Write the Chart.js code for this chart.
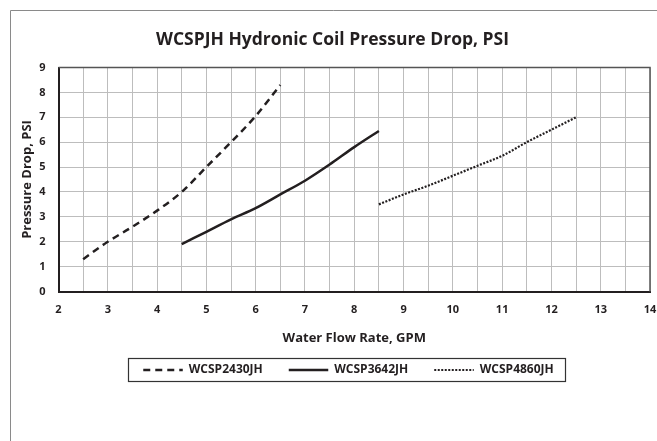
<!DOCTYPE html>
<html>
<head>
<meta charset="utf-8">
<script src="https://cdn.jsdelivr.net/npm/chart.js@4.4.0/dist/chart.umd.min.js"></script>
<style>
  html, body { margin: 0; padding: 0; background: #fff; }
  #wrap { width: 657px; height: 441px; }
</style>
</head>
<body>
<div id="wrap"><canvas id="chart" width="657" height="441"></canvas></div>
<script>
// flow rates (GPM) and pressure drops (PSI)
const flow2430 = [2.5, 3, 3.5, 4, 4.5, 5, 5.5, 6, 6.5];
const drop2430 = [1.3, 2.0, 2.6, 3.25, 4.0, 5.0, 6.0, 7.05, 8.3];

const flow3642 = [4.5, 5, 5.5, 6, 6.5, 7, 7.5, 8, 8.5];
const drop3642 = [1.9, 2.4, 2.9, 3.35, 3.9, 4.45, 5.1, 5.8, 6.45];

const flow4860 = [8.5, 9, 9.5, 10, 10.5, 11, 11.5, 12, 12.5];
const drop4860 = [3.5, 3.9, 4.25, 4.65, 5.05, 5.45, 6.0, 6.5, 7.0];

const seriesNames = ['WCSP2430JH', 'WCSP3642JH', 'WCSP4860JH'];

const ink = '#231f20';
const fontFam = '"Open Sans", "Noto Sans", sans-serif';

const toPoints = (xs, ys) => xs.map((x, i) => ({ x: x, y: ys[i] }));

// frame round the chart + grey top/right edge of the plot
const framePlugin = {
    id: 'frame',
    afterLayout(chart) {
        // legend sits a little right of centre in the original
        chart.legend.left += 16;
        chart.legend.right += 16;
    },
    beforeDatasetsDraw(chart) {
        const { ctx, chartArea: a } = chart;
        ctx.save();
        ctx.strokeStyle = '#555';
        ctx.lineWidth = 1.5;
        ctx.beginPath();
        ctx.moveTo(a.left, a.top);
        ctx.lineTo(a.right, a.top);
        ctx.lineTo(a.right, a.bottom);
        ctx.stroke();
        ctx.restore();
    },
    afterDraw(chart) {
        const ctx = chart.ctx;
        ctx.save();
        ctx.strokeStyle = '#8a8a8a';
        ctx.lineWidth = 1;
        ctx.beginPath();
        ctx.moveTo(10.5, chart.height);
        ctx.lineTo(10.5, 10.5);
        ctx.lineTo(chart.width, 10.5);
        ctx.stroke();

        // box round the legend
        const boxes = chart.legend.legendHitBoxes;
        if (boxes && boxes.length) {
            const l = Math.min(...boxes.map(b => b.left)) - 15;
            const r = Math.max(...boxes.map(b => b.left + b.width)) + 12;
            const t = Math.min(...boxes.map(b => b.top)) - 6;
            const bt = Math.max(...boxes.map(b => b.top + b.height)) + 5;
            ctx.strokeStyle = '#333';
            ctx.lineWidth = 1.2;
            ctx.strokeRect(Math.round(l) + 0.5, Math.round(t) + 0.5, Math.round(r - l), Math.round(bt - t));
        }
        ctx.restore();
    }
};

new Chart(document.getElementById('chart'), {
    type: 'line',
    data: {
        datasets: [
            {
                label: seriesNames[0],
                data: toPoints(flow2430, drop2430),
                borderColor: ink,
                backgroundColor: 'rgba(0,0,0,0)',
                borderWidth: 2.5,
                borderDash: [7, 5],
                pointRadius: 0,
                cubicInterpolationMode: 'monotone'
            },
            {
                label: seriesNames[1],
                data: toPoints(flow3642, drop3642),
                borderColor: ink,
                backgroundColor: 'rgba(0,0,0,0)',
                borderWidth: 2.5,
                pointRadius: 0,
                cubicInterpolationMode: 'monotone'
            },
            {
                label: seriesNames[2],
                data: toPoints(flow4860, drop4860),
                borderColor: ink,
                backgroundColor: 'rgba(0,0,0,0)',
                borderWidth: 2.2,
                borderDash: [2, 1.5],
                pointRadius: 0,
                cubicInterpolationMode: 'monotone'
            }
        ]
    },
    options: {
        responsive: false,
        animation: false,
        layout: { padding: { top: 10, left: 8, right: 0, bottom: 55 } },
        plugins: {
            title: {
                display: true,
                text: 'WCSPJH Hydronic Coil Pressure Drop, PSI',
                color: ink,
                font: { family: fontFam, size: 17.5, weight: 'bold' },
                padding: { top: 19.5, bottom: 17 }
            },
            legend: {
                position: 'bottom',
                labels: {
                    color: ink,
                    font: { family: fontFam, size: 12, weight: 'bold' },
                    // zero-height box = a short line in the series' dash style
                    boxWidth: 39.5,
                    boxHeight: 0,
                    padding: 26
                }
            },
            tooltip: { enabled: false }
        },
        scales: {
            x: {
                type: 'linear',
                min: 2,
                max: 14,
                grid: { color: '#bdbdbd', drawTicks: false },
                border: { color: ink, width: 2 },
                ticks: {
                    stepSize: 0.5,
                    autoSkip: false,
                    maxRotation: 0,
                    padding: 12,
                    color: ink,
                    font: { family: fontFam, size: 11, weight: 'bold' },
                    callback: v => Number.isInteger(v) ? v : ''
                },
                title: {
                    display: true,
                    text: 'Water Flow Rate, GPM',
                    color: ink,
                    font: { family: fontFam, size: 13, weight: 'bold' },
                    padding: { top: 4, bottom: -8 }
                },
                afterFit: s => { s.height = 46.5; s.paddingRight = 7; }
            },
            y: {
                min: 0,
                max: 9,
                grid: { color: '#bdbdbd', drawTicks: false },
                border: { color: ink, width: 2 },
                ticks: {
                    stepSize: 1,
                    padding: 13,
                    color: ink,
                    font: { family: fontFam, size: 11, weight: 'bold' }
                },
                title: {
                    display: true,
                    text: 'Pressure Drop, PSI',
                    color: ink,
                    font: { family: fontFam, size: 13, weight: 'bold' },
                    padding: { top: 11, bottom: 4 }
                },
                afterFit: s => { s.width = 50.5; }
            }
        }
    },
    plugins: [framePlugin]
});
</script>
</body>
</html>
